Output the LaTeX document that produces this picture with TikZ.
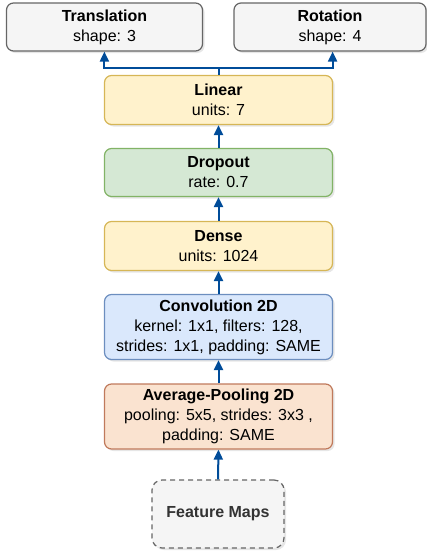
\documentclass[tikz,border=0pt]{standalone}
\usepackage{fontspec}
\setmainfont{Liberation Sans}
\usetikzlibrary{arrows.meta,shadows,calc}
\definecolor{grayfill}{HTML}{F5F5F5}
\definecolor{graydraw}{HTML}{666666}
\definecolor{yelfill}{HTML}{FFF2CC}
\definecolor{yeldraw}{HTML}{D6B656}
\definecolor{grnfill}{HTML}{D5E8D4}
\definecolor{grndraw}{HTML}{82B366}
\definecolor{blufill}{HTML}{DAE8FC}
\definecolor{bludraw}{HTML}{6C8EBF}
\definecolor{orafill}{HTML}{FAE3D0}
\definecolor{oradraw}{HTML}{C07A5C}
\definecolor{arrcol}{HTML}{004C99}
\definecolor{fmtext}{HTML}{333333}
\begin{document}
\begin{tikzpicture}[x=1pt,y=-1pt,
  layer/.style={draw, line width=1.2pt, rounded corners=7pt, align=center, inner sep=0pt,
    font=\fontsize{16}{20}\selectfont,
    drop shadow={shadow xshift=2pt, shadow yshift=-2pt, opacity=0.2}},
  graybox/.style={layer, fill=grayfill, draw=graydraw},
  yelbox/.style={layer, fill=yelfill, draw=yeldraw},
  grnbox/.style={layer, fill=grnfill, draw=grndraw},
  blubox/.style={layer, fill=blufill, draw=bludraw},
  orabox/.style={layer, fill=orafill, draw=oradraw},
  fmbox/.style={layer, fill=grayfill, draw=graydraw, dashed, dash pattern=on 5pt off 4pt, rounded corners=10pt, text=fmtext},
  arr/.style={draw=arrcol, line width=2pt, -{Triangle[length=10pt,width=9pt]}},
  link/.style={draw=arrcol, line width=2pt}
]
\useasboundingbox (0,0) rectangle (427,554);
\node[graybox, minimum width=196pt, minimum height=48pt] (trans) at (104.5,27) {\textbf{Translation}\\shape: 3};
\node[graybox, minimum width=192pt, minimum height=48pt] (rot) at (330,27) {\textbf{Rotation}\\shape: 4};
\node[yelbox, minimum width=228pt, minimum height=49pt] (linear) at (218.5,100) {\textbf{Linear}\\units: 7};
\node[grnbox, minimum width=228pt, minimum height=48pt] (drop) at (218.5,172.5) {\textbf{Dropout}\\rate: 0.7};
\node[yelbox, minimum width=228pt, minimum height=49pt] (dense) at (218.5,246) {\textbf{Dense}\\units: 1024};
\node[blubox, minimum width=228pt, minimum height=65pt] (conv) at (218.5,327) {\textbf{Convolution 2D}\\kernel: 1x1, filters: 128,\\strides: 1x1, padding: SAME};
\node[orabox, minimum width=228pt, minimum height=65pt] (pool) at (218.5,416.5) {\textbf{Average-Pooling 2D}\\pooling: 5x5, strides: 3x3 ,\\padding: SAME};
\node[fmbox, minimum width=132pt, minimum height=68pt] (fm) at (218,514) {\textbf{Feature Maps}};
\draw[arr] (fm.north) -- (pool.south);
\draw[arr] (pool.north) -- (conv.south);
\draw[arr] (conv.north) -- (dense.south);
\draw[arr] (dense.north) -- (drop.south);
\draw[arr] (drop.north) -- (linear.south);
\coordinate (br) at (218.5,68);
\draw[link] (linear.north) -- (br);
\draw[arr] (br) -| ([xshift=0.5pt]linear.north west |- trans.south);
\draw[arr] (br) -| ([xshift=-0.5pt]linear.north east |- rot.south);
\end{tikzpicture}
\end{document}
